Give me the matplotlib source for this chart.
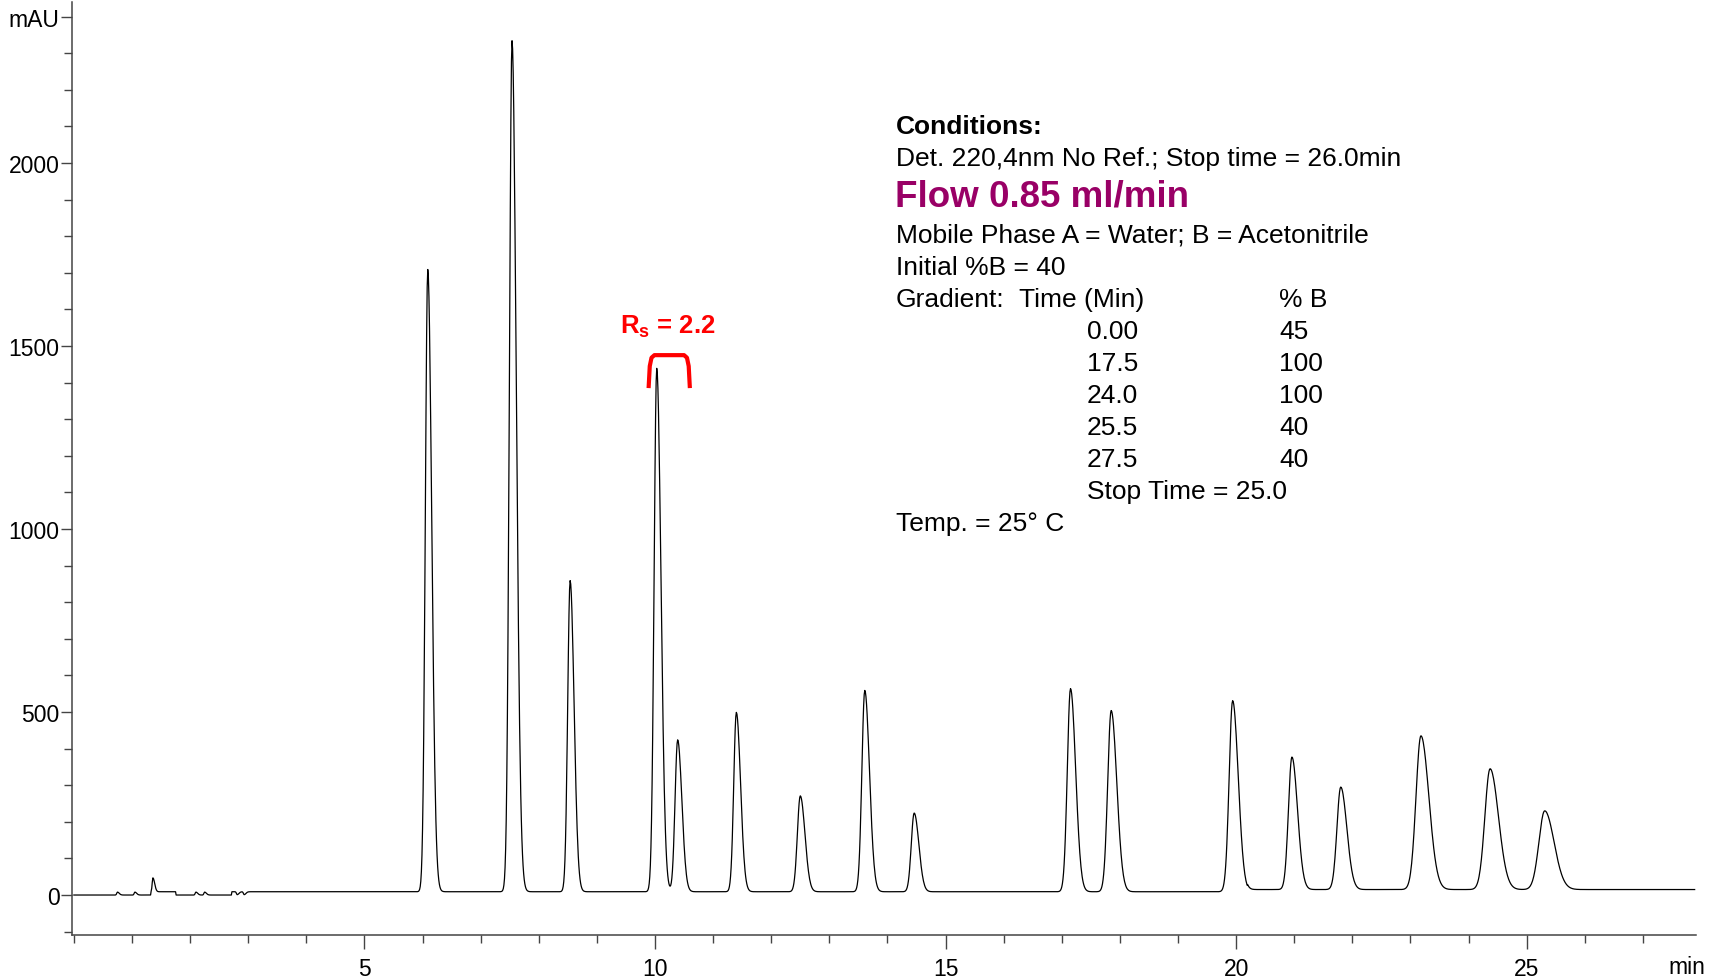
import numpy as np
import matplotlib
matplotlib.use("Agg")
import matplotlib.pyplot as plt
from matplotlib.ticker import MultipleLocator
import matplotlib.transforms as mtransforms

plt.rcParams['font.family'] = ['Liberation Sans', 'DejaVu Sans']
plt.rcParams['mathtext.fontset'] = 'custom'
plt.rcParams['mathtext.rm'] = 'Liberation Sans'
plt.rcParams['mathtext.bf'] = 'Liberation Sans:bold'

# peak table: retention time (min), height (mAU), width (min)
peak_rt = [6.09, 7.54, 8.54, 10.03, 10.39, 11.40, 12.50, 13.61, 14.46,
           17.15, 17.85, 19.94, 20.96, 21.80, 23.18, 24.37, 25.31]
peak_height = [1700, 2325, 850, 1430, 415, 490, 262, 550, 215,
               555, 495, 522, 362, 280, 420, 330, 215]
peak_width = [0.042, 0.045, 0.042, 0.045, 0.045, 0.045, 0.05, 0.05, 0.05,
              0.055, 0.06, 0.06, 0.06, 0.065, 0.085, 0.09, 0.10]

# small early disturbances
small_rt = [0.75, 1.05, 1.36, 2.10, 2.25, 2.81, 2.93]
small_height = [8, 8, 38, 8, 8, -8, -8]

# baseline drift levels
base_start = [0.0, 1.33, 1.76, 2.72, 20.2]
base_level = [0, 9, 0, 9, 15]

yticks = [0, 500, 1000, 1500, 2000, 2400]
ytick_labels = ['0', '500', '1000', '1500', '2000', 'mAU']
xticks = [5, 10, 15, 20, 25]

t = np.arange(0, 27.9, 0.01)
signal = np.zeros_like(t)
for i in range(len(base_start)):
    signal[t >= base_start[i]] = base_level[i]
for rt, h, w in zip(peak_rt, peak_height, peak_width):
    s = np.where(t < rt, w, w * 1.6)
    signal += h * np.exp(-0.5 * ((t - rt) / s) ** 2)
for rt, h in zip(small_rt, small_height):
    s = np.where(t < rt, 0.012, 0.03)
    signal += h * np.exp(-0.5 * ((t - rt) / s) ** 2)

fig = plt.figure(figsize=(17.17, 9.79), dpi=100)
ax = fig.add_axes([0.042, 0.044, 0.946, 0.953])
ax.plot(t, signal, color='black', linewidth=0.9)

ax.set_xlim(-0.03, 27.92)
ax.set_ylim(-109, 2440)
ax.spines['top'].set_visible(False)
ax.spines['right'].set_visible(False)
for sp in ['left', 'bottom']:
    ax.spines[sp].set_color('#444444')
    ax.spines[sp].set_linewidth(1.1)

ax.set_xticks(xticks)
ax.xaxis.set_minor_locator(MultipleLocator(1))
ax.set_yticks(yticks)
ax.set_yticklabels(ytick_labels)
ax.yaxis.set_minor_locator(MultipleLocator(100))
ax.tick_params(axis='both', which='major', labelsize=16.5, length=8,
               width=1, color='#444444', pad=1)
ax.tick_params(axis='both', which='minor', length=6, width=1, color='#444444')
ax.tick_params(axis='x', which='major', length=10, pad=6)

trans = mtransforms.blended_transform_factory(ax.transData, ax.transAxes)
ax.text(27.75, -0.022, 'min', transform=trans, ha='center', va='top',
        fontsize=16.5)

# resolution bracket between peaks 4 and 5
x0 = peak_rt[3] - 0.14
x1 = peak_rt[4] + 0.21
bx = [x0, x0 + 0.02, x0 + 0.05, x0 + 0.1, x1 - 0.1, x1 - 0.05, x1 - 0.02, x1]
by = [1385, 1445, 1468, 1475, 1475, 1468, 1445, 1385]
ax.plot(bx, by, color='#ff0000', linewidth=3, solid_joinstyle='round',
        solid_capstyle='butt')
ax.text((x0 + x1) / 2 - 0.02, 1555, r'$\mathbf{R_s}$' + ' = 2.2', color='#ff0000',
        fontsize=18.5, fontweight='bold', ha='center', va='center')

# run conditions
W, H = 1717.0, 979.0
def put(x, y, s, **kw):
    fig.text(x / W, 1 - (y + 3) / H, s, va='center', ha='left', **kw)

fs = 19
put(896, 124, 'Conditions:', fontsize=fs, fontweight='bold')
put(896, 156, 'Det. 220,4nm No Ref.; Stop time = 26.0min', fontsize=fs)
put(895, 194, 'Flow 0.85 ml/min', fontsize=26.5, fontweight='bold', color='#990066')
put(896, 233, 'Mobile Phase A = Water; B = Acetonitrile', fontsize=fs)
put(896, 265, 'Initial %B = 40', fontsize=fs)
put(896, 297, 'Gradient:', fontsize=fs)
put(1019, 297, 'Time (Min)', fontsize=fs)
put(1279, 297, '% B', fontsize=fs)

grad_time = ['0.00', '17.5', '24.0', '25.5', '27.5']
grad_b = ['45', '100', '100', '40', '40']
for i, (gt, gb) in enumerate(zip(grad_time, grad_b)):
    y = 329 + i * 32
    put(1087, y, gt, fontsize=fs)
    put(1279, y, gb, fontsize=fs)
put(1087, 489, 'Stop Time = 25.0', fontsize=fs)
put(896, 521, 'Temp. = 25\u00b0 C', fontsize=fs)

fig.savefig('out.png', dpi=100)
